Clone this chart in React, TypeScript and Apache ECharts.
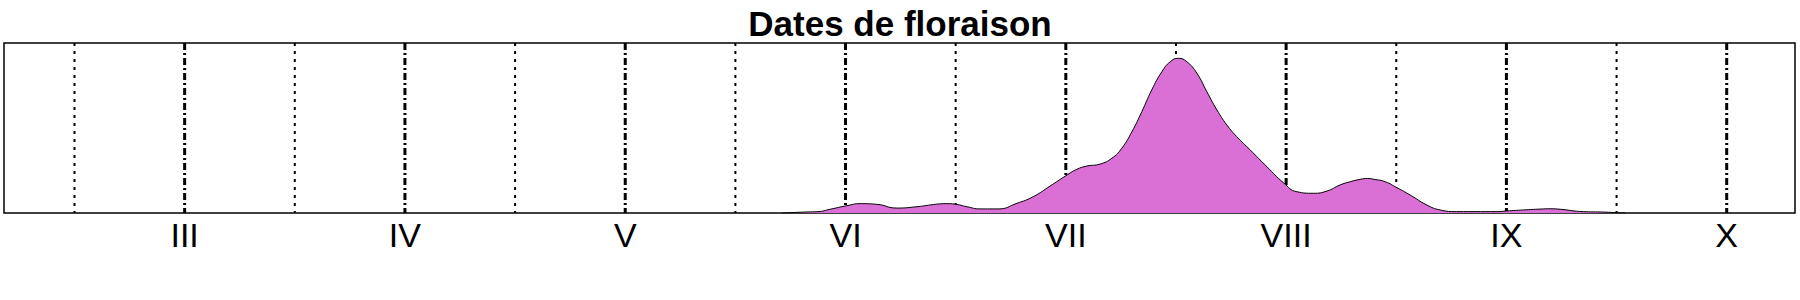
import React, { useEffect, useRef } from "react";
import * as echarts from "echarts";

const monthTicks = [3, 4, 5, 6, 7, 8, 9, 10];
const monthLabels = ["III", "IV", "V", "VI", "VII", "VIII", "IX", "X"];
const halfMonthTicks = [2.5, 3.5, 4.5, 5.5, 6.5, 7.5, 8.5, 9.5];

const densityX = [
  5.713, 5.825, 5.875, 5.93, 6.006, 6.066, 6.142, 6.233, 6.324, 6.414, 6.46, 6.497, 6.551,
  6.611, 6.693, 6.778, 6.852, 6.929, 7.0, 7.05, 7.095, 7.156, 7.209, 7.254, 7.3,
  7.345, 7.39, 7.436, 7.474, 7.511, 7.549, 7.595, 7.64, 7.686, 7.731, 7.776, 7.837,
  7.913, 7.988, 8.049, 8.124, 8.185, 8.245, 8.291, 8.336, 8.37, 8.404, 8.45, 8.503, 8.563,
  8.639, 8.699, 8.775, 8.957, 9.002, 9.078, 9.153, 9.2, 9.244, 9.35, 9.426, 9.502, 9.539,
];
const densityY = [
  0.0, 0.006, 0.008, 0.022, 0.043, 0.055, 0.051, 0.029, 0.037, 0.052, 0.055, 0.052, 0.037,
  0.024, 0.024, 0.057, 0.096, 0.159, 0.219, 0.257, 0.276, 0.288, 0.322, 0.381, 0.478,
  0.596, 0.724, 0.831, 0.89, 0.91, 0.89, 0.822, 0.714, 0.606, 0.518, 0.449, 0.371,
  0.272, 0.178, 0.125, 0.116, 0.129, 0.165, 0.184, 0.198, 0.203, 0.197, 0.184, 0.149, 0.106,
  0.047, 0.018, 0.008, 0.008, 0.012, 0.018, 0.023, 0.025, 0.022, 0.008, 0.006, 0.002, 0.0,
];

const FONT = "'Liberation Sans', Arial, Helvetica, sans-serif";

function vLineSeries(values: number[], style: any, z: number) {
  return {
    type: "custom",
    z,
    silent: true,
    data: values.map((v) => [v, 0]),
    encode: { x: 0, y: 1 },
    renderItem: (params: any, api: any) => {
      const cs = params.coordSys;
      const x = api.coord([api.value(0), 0])[0];
      return {
        type: "line",
        shape: { x1: x, y1: cs.y, x2: x, y2: cs.y + cs.height },
        style: { stroke: "#000", fill: null, ...style },
      };
    },
  };
}

export default function App() {
  const ref = useRef<HTMLDivElement>(null);
  useEffect(() => {
    document.body.style.margin = "0";
    const chart = echarts.init(ref.current!, null, { renderer: "svg" });
    chart.setOption({
      animation: false,
      backgroundColor: "#fff",
      title: {
        text: "Dates de floraison",
        left: "center",
        top: 1,
        textStyle: { fontFamily: FONT, fontSize: 35, fontWeight: "bold", color: "#000" },
      },
      grid: {
        left: 4,
        right: 5,
        top: 43,
        bottom: 87,
        show: true,
        borderColor: "#000",
        borderWidth: 1.5,
        backgroundColor: "transparent",
      },
      xAxis: {
        type: "value",
        min: 2.18,
        max: 10.31,
        axisLine: { show: false },
        axisTick: { show: false },
        splitLine: { show: false },
        axisLabel: {
          customValues: monthTicks,
          formatter: (v: number) => monthLabels[monthTicks.indexOf(v)] ?? "",
          fontFamily: FONT,
          fontSize: 34,
          color: "#000",
          margin: 5,
        },
      },
      yAxis: {
        type: "value",
        min: 0,
        max: 1,
        show: false,
      },
      series: [
        vLineSeries(halfMonthTicks, { lineWidth: 2, lineDash: [3, 5] }, 1),
        vLineSeries(monthTicks, { lineWidth: 3, lineDash: [7, 3, 2, 3] }, 1),
        {
          type: "line",
          z: 3,
          data: densityX.map((x, i) => [x, densityY[i]]),
          smooth: 0.5,
          symbol: "none",
          lineStyle: { color: "#000", width: 1 },
          areaStyle: { color: "#DA70D6", opacity: 1 },
        },
      ],
    });
    return () => chart.dispose();
  }, []);
  return <div ref={ref} style={{ width: 1800, height: 300 }} />;
}
